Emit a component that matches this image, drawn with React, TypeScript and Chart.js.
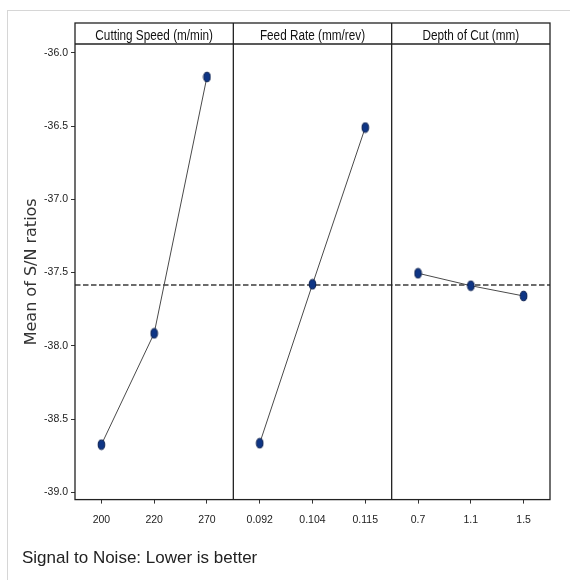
import React, { useEffect, useRef } from 'react';
import { Chart, registerables } from 'chart.js';

Chart.register(...registerables);

const FACTORS = ['Cutting Speed (m/min)', 'Feed Rate (mm/rev)', 'Depth of Cut (mm)'];
const CS_LEVELS = ['200', '220', '270'];
const FR_LEVELS = ['0.092', '0.104', '0.115'];
const DOC_LEVELS = ['0.7', '1.1', '1.5'];
const CS_SN = [-38.675, -37.915, -36.165];
const FR_SN = [-38.665, -37.58, -36.51];
const DOC_SN = [-37.505, -37.59, -37.66];
const MEAN_SN = -37.585;
const Y_TICKS = [-36.0, -36.5, -37.0, -37.5, -38.0, -38.5, -39.0];
const Y_MIN = -39.05;
const Y_MAX = -35.94;
const Y_TITLE = 'Mean of S/N ratios';
const BOTTOM_TITLE = 'Signal to Noise: Lower is better';

const SANS = '"Liberation Sans", Arial, sans-serif';

function makeMarker(): HTMLCanvasElement {
  const c = document.createElement('canvas');
  c.width = 9;
  c.height = 12;
  const g = c.getContext('2d')!;
  g.beginPath();
  g.ellipse(4.5, 6, 3.3, 4.8, 0, 0, Math.PI * 2);
  g.fillStyle = '#0e3585';
  g.fill();
  g.lineWidth = 1;
  g.strokeStyle = '#081d4d';
  g.stroke();
  return c;
}

const framePlugin = {
  id: 'mainEffectsFrame',
  beforeDatasetsDraw(chart: any) {
    const { ctx, chartArea, scales } = chart;
    const y = scales.y.getPixelForValue(MEAN_SN);
    ctx.save();
    ctx.strokeStyle = '#3c3c3c';
    ctx.lineWidth = 1.4;
    ctx.setLineDash([5.5, 2.5]);
    ctx.beginPath();
    ctx.moveTo(chartArea.left, y);
    ctx.lineTo(chartArea.right, y);
    ctx.stroke();
    ctx.restore();
  },
  afterDraw(chart: any) {
    const { ctx, chartArea } = chart;
    const top = chartArea.top - 21;
    ctx.save();
    ctx.strokeStyle = '#222';
    ctx.lineWidth = 1.3;
    ctx.strokeRect(chartArea.left, top, chartArea.right - chartArea.left, chartArea.bottom - top);
    ctx.beginPath();
    ctx.moveTo(chartArea.left, chartArea.top);
    ctx.lineTo(chartArea.right, chartArea.top);
    ctx.stroke();
    ['x1', 'x2', 'x3'].forEach((id, i) => {
      const s = chart.scales[id];
      if (i > 0) {
        ctx.beginPath();
        ctx.moveTo(s.left, top);
        ctx.lineTo(s.left, chartArea.bottom);
        ctx.stroke();
      }
      ctx.save();
      ctx.fillStyle = '#111';
      ctx.font = `14px ${SANS}`;
      ctx.textAlign = 'center';
      ctx.textBaseline = 'middle';
      ctx.translate((s.left + s.right) / 2, top + 13.5);
      ctx.scale(0.84, 1);
      ctx.fillText(FACTORS[i], 0, 0);
      ctx.restore();
    });
    ctx.restore();
  },
};

function xScale(labels: string[]) {
  return {
    type: 'category',
    labels,
    position: 'bottom',
    stack: 'levels',
    stackWeight: 1,
    offset: true,
    grid: { display: true, drawOnChartArea: false, drawTicks: true, tickLength: 4, color: '#333' },
    border: { display: false },
    ticks: { font: { family: SANS, size: 10.5 }, color: '#222', padding: 10, maxRotation: 0, autoSkip: false },
    afterFit: (s: any) => {
      s.height = 35;
    },
  };
}

export default function App() {
  const ref = useRef<HTMLCanvasElement>(null);

  useEffect(() => {
    if (!ref.current) return;
    const marker = makeMarker();
    const ds = (data: number[], axis: string) => ({
      data,
      xAxisID: axis,
      yAxisID: 'y',
      borderColor: '#4a4a4a',
      borderWidth: 1,
      pointStyle: marker,
      pointRadius: 5,
      tension: 0,
      fill: false,
    });
    const chart = new Chart(ref.current, {
      type: 'line',
      data: {
        datasets: [ds(CS_SN, 'x1'), ds(FR_SN, 'x2'), ds(DOC_SN, 'x3')],
      },
      options: {
        animation: false,
        responsive: false,
        maintainAspectRatio: false,
        layout: { padding: { left: 22, right: 20, top: 44, bottom: 0 } },
        plugins: {
          legend: { display: false },
          tooltip: { enabled: false },
          title: {
            display: true,
            text: BOTTOM_TITLE,
            position: 'bottom',
            align: 'start',
            color: '#222',
            font: { family: SANS, size: 17, weight: 'normal' },
            padding: { top: 14, bottom: 14 },
          },
        },
        scales: {
          x1: xScale(CS_LEVELS),
          x2: xScale(FR_LEVELS),
          x3: xScale(DOC_LEVELS),
          y: {
            type: 'linear',
            position: 'left',
            min: Y_MIN,
            max: Y_MAX,
            afterBuildTicks: (s: any) => {
              s.ticks = Y_TICKS.map((v) => ({ value: v }));
            },
            afterFit: (s: any) => {
              s.width = 53;
            },
            grid: { display: true, drawOnChartArea: false, drawTicks: true, tickLength: 4, color: '#333' },
            border: { display: false },
            ticks: {
              font: { family: SANS, size: 10.5 },
              color: '#222',
              padding: 3,
              callback: (v: any) => Number(v).toFixed(1),
            },
            title: {
              display: true,
              text: Y_TITLE,
              color: '#333',
              font: { family: '"DejaVu Sans", Verdana, sans-serif', size: 16 },
              padding: 0,
            },
          },
        },
      } as any,
      plugins: [framePlugin],
    });
    return () => chart.destroy();
  }, []);

  return (
    <div style={{ position: 'fixed', left: 0, top: 0, width: 570, height: 583, background: '#fff' }}>
      <div
        style={{
          position: 'absolute',
          left: 7,
          top: 10,
          width: 563,
          height: 570,
          borderLeft: '1px solid #d6d6d6',
          borderTop: '1px solid #d6d6d6',
          boxSizing: 'border-box',
        }}
      />
      <canvas ref={ref} width={570} height={583} style={{ position: 'absolute', left: 0, top: 0, width: 570, height: 583 }} />
    </div>
  );
}
